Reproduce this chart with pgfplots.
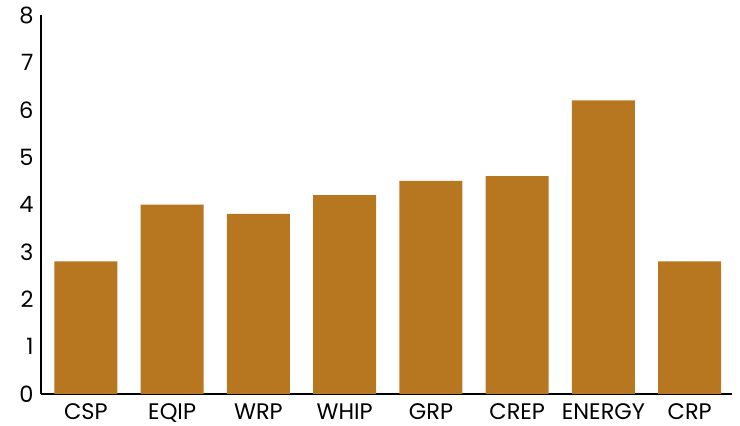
\documentclass[border=0pt]{standalone}
\usepackage{pgfplots}
\pgfplotsset{compat=1.18}
\usepackage{fontspec}
\setmainfont{Poppins}
\definecolor{barc}{RGB}{182,119,32}
\begin{document}
\begin{tikzpicture}
\useasboundingbox (0,0) rectangle (740pt,426pt);
\begin{axis}[
  at={(41pt,32pt)}, anchor=south west,
  scale only axis, width=691pt, height=379pt,
  xmin=-0.52, xmax=7.49, ymin=0, ymax=8,
  axis x line=bottom, axis y line=left,
  axis line style={-, line width=2.2pt, black},
  xtick={0,...,7},
  xticklabels={CSP,EQIP,WRP,WHIP,GRP,CREP,ENERGY,CRP},
  ytick={0,...,8},
  major tick length=0pt,
  tick label style={font=\fontsize{22.5}{25}\selectfont, black},
  xticklabel style={yshift=-6pt},
  yticklabel style={xshift=-4pt},
  /pgf/number format/assume math mode=true,
  ybar, bar width=63pt,
  clip=false,
]
\addplot[fill=barc, draw=none] coordinates {(0,2.8) (1,4.0) (2,3.8) (3,4.2) (4,4.5) (5,4.6) (6,6.2) (7,2.8)};
\end{axis}
\end{tikzpicture}
\end{document}
